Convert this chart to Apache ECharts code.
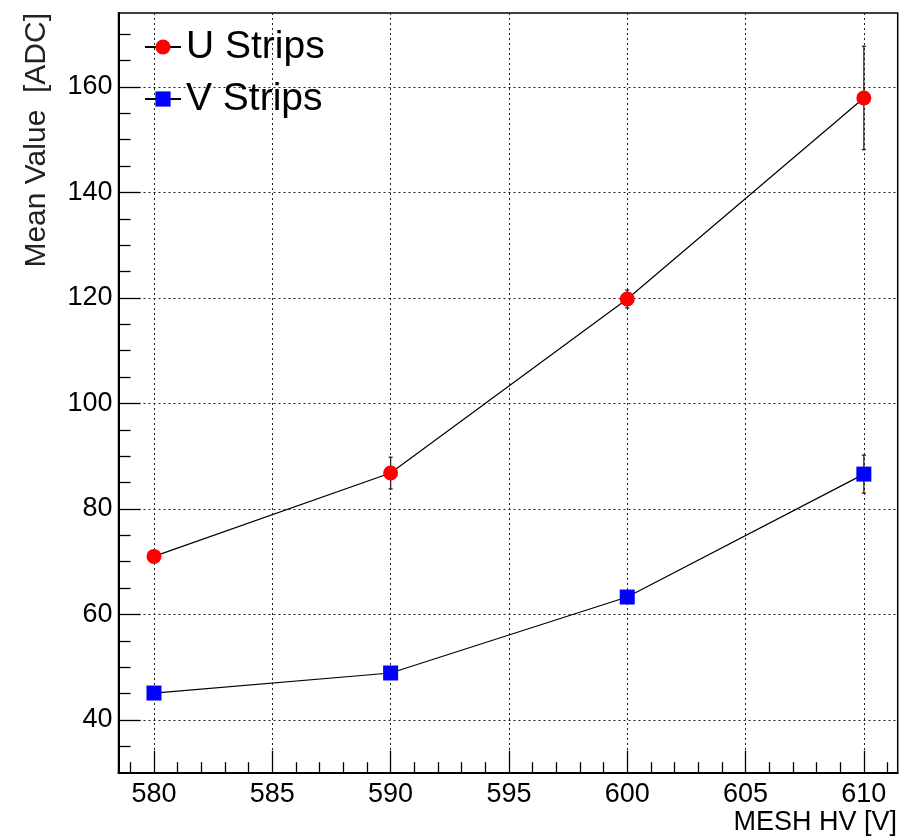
<!DOCTYPE html>
<html>
<head>
<meta charset="utf-8">
<script src="https://cdn.jsdelivr.net/npm/echarts@6/dist/echarts.min.js"></script>
<style>
html,body{margin:0;padding:0;background:#fff;}
#chart{width:902px;height:837px;}
</style>
</head>
<body>
<div id="chart"></div>
<script>
// ---- data ----
const meshHV = [580, 590, 600, 610];
const uMean = [71.0, 86.8, 119.8, 157.9];
const uErr = [0.8, 3.0, 1.7, 9.8];
const vMean = [45.1, 48.9, 63.3, 86.6];
const vErr = [0.8, 1.0, 1.0, 3.6];
const xMajorTicks = [580, 585, 590, 595, 600, 605, 610];
const xMinorTicks = [579, 581, 582, 583, 584, 586, 587, 588, 589, 591, 592, 593, 594, 596, 597, 598, 599, 601, 602, 603, 604, 606, 607, 608, 609, 611];
const yMajorTicks = [40, 60, 80, 100, 120, 140, 160];
const yMinorTicks = [35, 45, 50, 55, 65, 70, 75, 85, 90, 95, 105, 110, 115, 125, 130, 135, 145, 150, 155, 165, 170];
const seriesNames = ['U Strips', 'V Strips'];
const xTitle = 'MESH HV [V]';
const yTitle = 'Mean Value  [ADC]';

const FONT = '"Liberation Sans", Arial, Helvetica, sans-serif';
const X_MIN = 578.5, X_MAX = 611.43, Y_MIN = 30, Y_MAX = 174;

const uData = meshHV.map((x, i) => [x, uMean[i]]);
const vData = meshHV.map((x, i) => [x, vMean[i]]);
const uErrData = meshHV.map((x, i) => [x, uMean[i], uErr[i]]);
const vErrData = meshHV.map((x, i) => [x, vMean[i], vErr[i]]);

function errRender(params, api) {
  const x = api.value(0), y = api.value(1), e = api.value(2);
  const top = api.coord([x, y + e]);
  const bot = api.coord([x, y - e]);
  const cap = 2;
  const style = { stroke: '#222', lineWidth: 1.3 };
  return {
    type: 'group',
    children: [
      { type: 'line', shape: { x1: top[0], y1: top[1], x2: bot[0], y2: bot[1] }, style },
      { type: 'line', shape: { x1: top[0] - cap, y1: top[1], x2: top[0] + cap, y2: top[1] }, style },
      { type: 'line', shape: { x1: bot[0] - cap, y1: bot[1], x2: bot[0] + cap, y2: bot[1] }, style }
    ]
  };
}

const chart = echarts.init(document.getElementById('chart'), null, { renderer: 'canvas' });
const gridLine = { show: true, lineStyle: { color: '#222', width: 1, type: [2, 3] } };

chart.setOption({
  animation: false,
  backgroundColor: '#fff',
  textStyle: { fontFamily: FONT },
  grid: {
    left: 118.5, top: 13, right: 4.3, bottom: 64.3,
    show: true, borderColor: '#000', borderWidth: 1.5, backgroundColor: 'transparent'
  },
  legend: {
    data: seriesNames,
    orient: 'vertical',
    left: 144,
    top: 27,
    padding: 0,
    itemWidth: 36,
    itemHeight: 19,
    itemGap: 12,
    textStyle: { fontSize: 39, color: '#000', fontFamily: FONT, lineHeight: 40 },
    selectedMode: false
  },
  xAxis: [
    {
      type: 'value', min: X_MIN, max: X_MAX, position: 'bottom', offset: 0,
      axisLine: { show: true, onZero: false, lineStyle: { color: '#000', width: 2 } },
      axisTick: { show: true, inside: true, length: 22, customValues: xMajorTicks, lineStyle: { color: '#000', width: 1.3 } },
      axisLabel: { show: true, customValues: xMajorTicks, fontSize: 27, color: '#000', margin: 8, fontFamily: FONT },
      splitLine: gridLine
    },
    {
      type: 'value', min: X_MIN, max: X_MAX, position: 'bottom', offset: 0,
      axisLine: { show: false },
      axisTick: { show: true, inside: true, length: 10.5, customValues: xMinorTicks, lineStyle: { color: '#000', width: 1.3 } },
      axisLabel: { show: false },
      splitLine: { show: false }
    }
  ],
  yAxis: [
    {
      type: 'value', min: Y_MIN, max: Y_MAX, position: 'left', offset: 0,
      axisLine: { show: true, onZero: false, lineStyle: { color: '#000', width: 2 } },
      axisTick: { show: true, inside: true, length: 22, customValues: yMajorTicks, lineStyle: { color: '#000', width: 1.3 } },
      axisLabel: { show: true, customValues: yMajorTicks, fontSize: 27, color: '#000', margin: 6, fontFamily: FONT },
      splitLine: gridLine
    },
    {
      type: 'value', min: Y_MIN, max: Y_MAX, position: 'left', offset: 0,
      axisLine: { show: false },
      axisTick: { show: true, inside: true, length: 12, customValues: yMinorTicks, lineStyle: { color: '#000', width: 1.3 } },
      axisLabel: { show: false },
      splitLine: { show: false }
    }
  ],
  series: [
    {
      name: 'U err', type: 'custom', xAxisIndex: 0, yAxisIndex: 0, z: 2,
      renderItem: errRender, data: uErrData, encode: { x: 0, y: 1 }, silent: true
    },
    {
      name: 'V err', type: 'custom', xAxisIndex: 0, yAxisIndex: 0, z: 2,
      renderItem: errRender, data: vErrData, encode: { x: 0, y: 1 }, silent: true
    },
    {
      name: seriesNames[0], type: 'line', xAxisIndex: 0, yAxisIndex: 0, z: 3,
      data: uData, symbol: 'circle', symbolSize: 15, showSymbol: true,
      lineStyle: { color: '#000', width: 1.2 },
      itemStyle: { color: '#ff0000', borderWidth: 0 }
    },
    {
      name: seriesNames[1], type: 'line', xAxisIndex: 0, yAxisIndex: 0, z: 3,
      data: vData, symbol: 'rect', symbolSize: 15, showSymbol: true,
      lineStyle: { color: '#000', width: 1.2 },
      itemStyle: { color: '#0000ff', borderWidth: 0 }
    }
  ],
  graphic: [
    {
      type: 'text', x: 897, y: 823,
      style: { text: xTitle, font: '27px ' + FONT, fill: '#000', textAlign: 'right', textVerticalAlign: 'middle' }
    },
    {
      type: 'text', x: 37, y: 13, rotation: Math.PI / 2,
      style: { text: yTitle, font: '30px ' + FONT, fill: '#222', textAlign: 'right', textVerticalAlign: 'middle' }
    }
  ]
});
</script>
</body>
</html>
